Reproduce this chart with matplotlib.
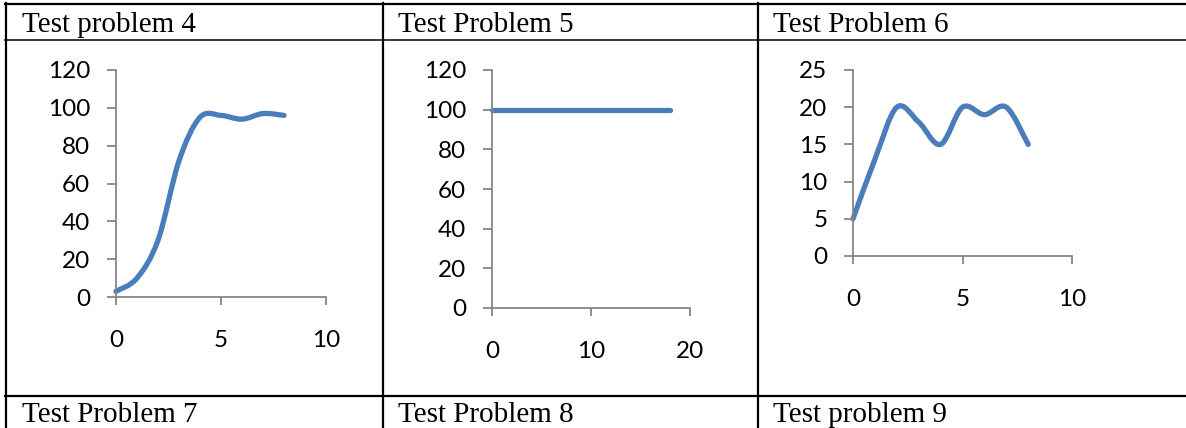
import matplotlib
matplotlib.use("Agg")
import matplotlib.pyplot as plt
from matplotlib.path import Path
from matplotlib.patches import PathPatch
from matplotlib.lines import Line2D

# values
p4_x = [0, 1, 2, 3, 4, 5, 6, 7, 8]
p4_y = [3, 10, 30, 72, 95, 96, 94, 97, 96]

p5_x = list(range(0, 19))
p5_y = [100] * 19

p6_x = [0, 1, 2, 3, 4, 5, 6, 7, 8]
p6_y = [5, 13, 20, 18, 15, 20, 19, 20, 15]

top_titles = ["Test problem 4", "Test Problem 5", "Test Problem 6"]
bottom_titles = ["Test Problem 7", "Test Problem 8", "Test problem 9"]

W, H = 1186, 428
line_color = "#4A7EBB"
axis_color = "#868686"


def smooth_path(xs, ys):
    # excel-style smoothed line: cubic bezier with neighbour based handles
    pts = list(zip(xs, ys))
    verts = [pts[0]]
    codes = [Path.MOVETO]
    n = len(pts)
    for i in range(n - 1):
        p0 = pts[max(i - 1, 0)]
        p1 = pts[i]
        p2 = pts[i + 1]
        p3 = pts[min(i + 2, n - 1)]
        c1 = (p1[0] + (p2[0] - p0[0]) / 6, p1[1] + (p2[1] - p0[1]) / 6)
        c2 = (p2[0] - (p3[0] - p1[0]) / 6, p2[1] - (p3[1] - p1[1]) / 6)
        verts += [c1, c2, p2]
        codes += [Path.CURVE4] * 3
    return Path(verts, codes)


def px_axes(fig, l, r, t, b):
    return fig.add_axes([l / W, 1 - b / H, (r - l) / W, (b - t) / H])


def style(ax, xmax, ymax, ystep, xstep):
    ax.set_xlim(0, xmax)
    ax.set_ylim(0, ymax)
    ax.set_xticks(range(0, xmax + 1, xstep))
    ax.set_yticks(range(0, ymax + 1, ystep))
    for s in ["top", "right"]:
        ax.spines[s].set_visible(False)
    for s in ["left", "bottom"]:
        ax.spines[s].set_color(axis_color)
        ax.spines[s].set_linewidth(1.3)
    ax.tick_params(axis="y", length=6.5, width=1.3, color=axis_color, pad=12,
                   labelsize=17.5)
    ax.tick_params(axis="x", length=6, width=1.3, color=axis_color, pad=18,
                   labelsize=17.5)
    for lab in ax.get_xticklabels() + ax.get_yticklabels():
        lab.set_fontfamily("Lato")
    ax.patch.set_alpha(0)


fig = plt.figure(figsize=(W / 100, H / 100), dpi=100)

ax1 = px_axes(fig, 116, 326, 70, 297)
style(ax1, 10, 120, 20, 5)
ax1.add_patch(PathPatch(smooth_path(p4_x, p4_y), fill=False, edgecolor=line_color,
                        lw=3.8, capstyle="round", joinstyle="round", clip_on=False))

ax2 = px_axes(fig, 492, 690, 70, 308)
style(ax2, 20, 120, 20, 10)
ax2.plot(p5_x, p5_y, color=line_color, lw=3.8, solid_capstyle="round", clip_on=False)

ax3 = px_axes(fig, 853, 1072, 70, 256)
style(ax3, 10, 25, 5, 5)
ax3.add_patch(PathPatch(smooth_path(p6_x, p6_y), fill=False, edgecolor=line_color,
                        lw=3.8, capstyle="round", joinstyle="round", clip_on=False))

# table grid
def hline(y, x0, x1, lw):
    fig.add_artist(Line2D([x0 / W, x1 / W], [1 - y / H, 1 - y / H], color="black", lw=lw))


def vline(x, y0, y1, lw):
    fig.add_artist(Line2D([x / W, x / W], [1 - y0 / H, 1 - y1 / H], color="black", lw=lw))


hline(4, 5, W, 1.6)
hline(40, 5, W, 1.1)
hline(396, 5, W, 1.6)
vline(6, 3, H, 1.6)
vline(383, 3, H, 1.6)
vline(758, 3, H, 1.6)

for x0, t in zip([22, 398, 773], top_titles):
    fig.text(x0 / W, 1 - 32 / H, t, fontsize=21, family="Liberation Serif",
             va="baseline", ha="left")
for x0, t in zip([22, 398, 773], bottom_titles):
    fig.text(x0 / W, 1 - 422 / H, t, fontsize=21, family="Liberation Serif",
             va="baseline", ha="left")

fig.savefig("out.png", dpi=100)
